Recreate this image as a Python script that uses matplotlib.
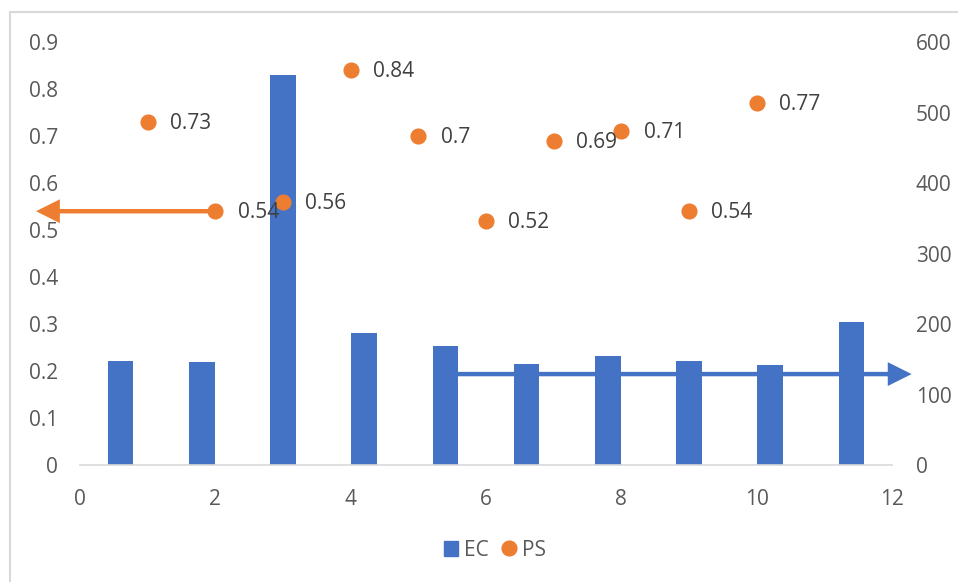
import matplotlib
matplotlib.use("Agg")
import matplotlib.pyplot as plt
from matplotlib.patches import Patch, Rectangle
from matplotlib.lines import Line2D

plt.rcParams['font.family'] = ['Open Sans', 'DejaVu Sans']

# EC bars (right axis) and PS points (left axis)
ec_x = [0.6, 1.8, 3.0, 4.2, 5.4, 6.6, 7.8, 9.0, 10.2, 11.4]
ec_vals = [147, 146, 553, 187, 169, 143, 155, 148, 142, 203]
ps_x = [1, 2, 3, 4, 5, 6, 7, 8, 9, 10]
ps_vals = [0.73, 0.54, 0.56, 0.84, 0.7, 0.52, 0.69, 0.71, 0.54, 0.77]
ps_labels = ['0.73', '0.54', '0.56', '0.84', '0.7', '0.52', '0.69', '0.71', '0.54', '0.77']

blue = '#4472C4'
orange = '#ED7D31'
tick_col = '#595959'
label_col = '#404040'

fig = plt.figure(figsize=(9.58, 5.82), dpi=100)

# thin chart-area frame
fig.patches.append(Rectangle((10 / 958, -0.1), 1.2, 1 - 12 / 582 + 0.1,
                             transform=fig.transFigure, fill=False,
                             edgecolor='#d9d9d9', lw=1.5))

ax = fig.add_axes([0.0835, 0.201, 0.8476, 0.7268])
ax2 = ax.twinx()
ax.set_zorder(ax2.get_zorder() + 1)
ax.patch.set_visible(False)

arrow_style = '-|>,head_length=0.6,head_width=0.3'

# bars + the arrow pointing at the right axis (drawn underneath the bars)
ax2.bar(ec_x, ec_vals, width=0.376, color=blue, zorder=3)
ax2.annotate('', xy=(12.29, 129), xytext=(5.57, 129), annotation_clip=False,
             arrowprops=dict(arrowstyle=arrow_style, mutation_scale=20,
                             color=blue, lw=3.2, joinstyle='miter',
                             capstyle='butt', shrinkA=0, shrinkB=0), zorder=2)
ax2.set_ylim(0, 600)
ax2.set_yticks(range(0, 601, 100))

# PS scatter with labels and arrow pointing at the left axis
ax.plot(ps_x, ps_vals, 'o', color=orange, markersize=10.6, zorder=4)
ax.annotate('', xy=(-0.65, 0.54), xytext=(2, 0.54), annotation_clip=False,
            arrowprops=dict(arrowstyle=arrow_style, mutation_scale=20,
                            color=orange, lw=3.2, joinstyle='miter',
                            capstyle='butt', shrinkA=0, shrinkB=0), zorder=3)
for x, y, s in zip(ps_x, ps_vals, ps_labels):
    ax.annotate(s, (x, y), xytext=(16, -1), textcoords='offset points',
                va='center', ha='left', fontsize=15, color=label_col, zorder=5)

ax.set_xlim(0, 12)
ax.set_ylim(0, 0.9)
ax.set_xticks(range(0, 13, 2))
ax.set_yticks([i / 10 for i in range(10)])
ax.set_yticklabels(['0'] + ['0.%d' % i for i in range(1, 10)])

for a in (ax, ax2):
    for sp in a.spines.values():
        sp.set_visible(False)
    a.tick_params(length=0, labelsize=15, labelcolor=tick_col)
ax.spines['bottom'].set_visible(True)
ax.spines['bottom'].set_color('#d9d9d9')
ax.spines['bottom'].set_linewidth(1.2)
ax.tick_params(axis='y', pad=16)
ax.tick_params(axis='x', pad=17)
ax2.tick_params(axis='y', pad=17)

handles = [Patch(color=blue, label='EC'),
           Line2D([], [], marker='o', ls='', color=orange, markersize=10.6, label='PS')]
fig.legend(handles=handles, loc='center', bbox_to_anchor=(495 / 958, 1 - 550 / 582),
           ncol=2, frameon=False, fontsize=15, labelcolor=tick_col,
           handlelength=0.7, handleheight=0.7, handletextpad=0.3, columnspacing=0.6)

fig.savefig('out.png', dpi=100)
